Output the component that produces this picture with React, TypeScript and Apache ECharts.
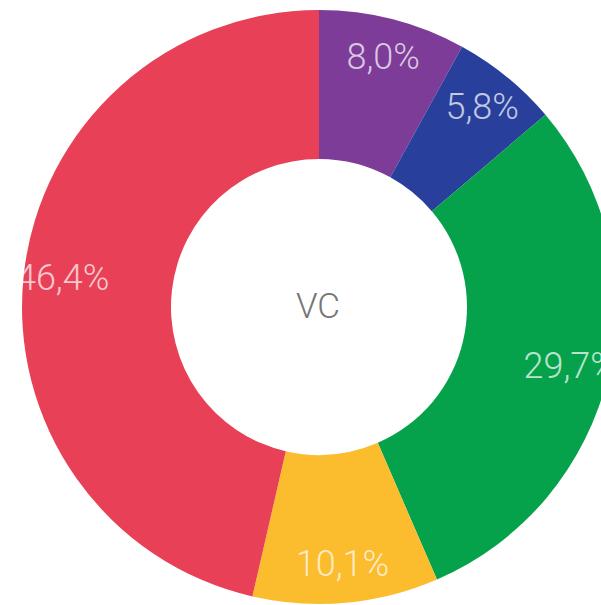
import React, { useEffect, useRef } from "react";
import * as echarts from "echarts";

const categories = ["Purple", "Blue", "Green", "Yellow", "Red"];
const values = [8.0, 5.8, 29.7, 10.1, 46.4];
const colors = ["#7D3C98", "#283F9C", "#06A24B", "#FBBC2D", "#E84157"];
const centerLabel = "VC";

export default function App() {
  const ref = useRef<HTMLDivElement>(null);
  useEffect(() => {
    if (!ref.current) return;
    const chart = echarts.init(ref.current, null, { renderer: "svg" });
    const data = categories.map((name, i) => ({
      name,
      value: values[i],
      itemStyle: { color: colors[i] },
    }));
    const fmt = (p: any) => p.value.toFixed(1).replace(".", ",") + "%";
    chart.setOption({
      animation: false,
      graphic: [
        {
          type: "text",
          x: 318,
          y: 306,
          z: 100,
          style: {
            text: centerLabel,
            align: "center",
            verticalAlign: "middle",
            fontFamily: "Roboto",
            fontSize: 35,
            fontWeight: 300,
            fill: "#777777",
          },
        },
      ],
      series: [
        {
          type: "pie",
          center: [319, 307],
          radius: [148, 297],
          startAngle: 90,
          clockwise: true,
          silent: true,
          label: { show: false },
          labelLine: { show: false },
          data,
        },
        {
          type: "pie",
          center: [319, 307],
          radius: [213, 297],
          startAngle: 90,
          clockwise: true,
          silent: true,
          itemStyle: { color: "rgba(0,0,0,0)" },
          label: {
            show: true,
            position: "inside",
            formatter: fmt,
            fontFamily: "Roboto",
            fontSize: 36,
            fontWeight: 300,
            color: "rgba(255,255,255,0.72)",
          },
          labelLine: { show: false },
          data: categories.map((name, i) => ({
            name,
            value: values[i],
            itemStyle: { color: "rgba(0,0,0,0)" },
          })),
        },
      ],
    });
    return () => chart.dispose();
  }, []);
  return (
    <div
      ref={ref}
      style={{ position: "fixed", left: 0, top: 0, width: 601, height: 605, background: "#ffffff" }}
    />
  );
}
